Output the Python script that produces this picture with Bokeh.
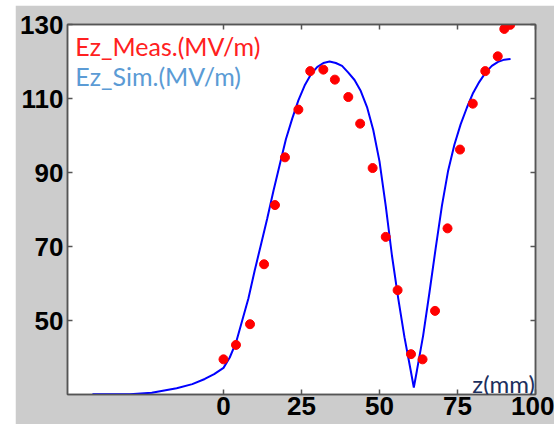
from bokeh.plotting import figure
from bokeh.models import Range1d, FixedTicker, LinearAxis, Label, GlobalInlineStyleSheet
from bokeh.embed import file_html
from bokeh.resources import INLINE

# Simulated field (line)
sim_z = [-42, -30, -23, -15, -10, -6, -3, 0, 2, 4, 6, 8, 10, 12, 14, 16, 18, 20, 22, 24,
         26, 28, 30, 32, 34, 36, 38, 40, 42, 44, 46, 48, 50, 52, 54, 56, 58, 60, 61, 62,
         64, 66, 68, 70, 72, 74, 76, 78, 80, 82, 84, 86, 88, 90, 92]
sim_ez = [30.05, 30.1, 30.5, 31.7, 32.8, 34.2, 35.5, 37.2, 40.0, 44.0, 50.0, 56.0, 63.5, 70.5, 77.5, 85.0, 92.0, 99.0, 104.5, 109.5,
          113.5, 116.5, 118.5, 119.6, 120.0, 119.6, 118.8, 117.0, 115.0, 112.0, 107.7, 101.5, 93.0, 81.0, 67.5, 56.0, 45.5, 36.5, 31.9, 36.5,
          46.0, 57.5, 69.5, 81.0, 90.5, 97.5, 103.0, 107.5, 111.5, 114.5, 117.0, 118.8, 119.9, 120.5, 120.7]

# Measured field (points)
meas_z = [0, 4, 8.5, 13, 16.5, 19.7, 24, 27.8, 32, 35.7, 40, 43.8, 47.8, 52, 55.8, 60.1,
          63.8, 67.8, 71.8, 75.8, 79.9, 83.9, 87.9, 90, 91.9]
meas_ez = [39.5, 43.4, 49.0, 65.2, 81.2, 94.1, 107.0, 117.4, 117.8, 115.1, 110.4, 103.2, 91.2, 72.6, 58.2, 40.9,
           39.5, 52.6, 74.9, 96.2, 108.6, 117.4, 121.4, 128.8, 129.9]

x_ticks = [0, 25, 50, 75, 100]
y_ticks = [50, 70, 90, 110, 130]

GRAY = "#cccccc"
FRAME = "#555555"

page_css = GlobalInlineStyleSheet(css="body { margin: 5px 0 0 15px; overflow: hidden; }")

p = figure(width=539, height=419, x_range=Range1d(-50, 100), y_range=Range1d(30, 130),
           output_backend="svg", toolbar_location=None,
           min_border_left=52, min_border_right=19, min_border_top=19, min_border_bottom=30,
           background_fill_color="white", border_fill_color=GRAY,
           outline_line_color=FRAME, outline_line_width=1.5,
           stylesheets=[page_css])
p.grid.visible = False

def style_axis(ax, ticks, labels=True):
    ax.ticker = FixedTicker(ticks=ticks)
    ax.major_tick_in = 5
    ax.major_tick_out = 0
    ax.minor_tick_line_color = None
    ax.axis_line_color = FRAME
    ax.axis_line_width = 1.5
    ax.major_tick_line_color = FRAME
    ax.major_tick_line_width = 1.5
    if labels:
        ax.major_label_text_font = "Liberation Sans"
        ax.major_label_text_font_style = "bold"
        ax.major_label_text_font_size = "26px"
        ax.major_label_text_color = "black"
    else:
        ax.major_label_text_font_size = "1px"
        ax.major_label_text_color = None
        ax.major_label_standoff = 0

style_axis(p.xaxis[0], x_ticks)
p.xaxis[0].major_label_standoff = 2
style_axis(p.yaxis[0], y_ticks)
p.yaxis[0].major_label_standoff = 4

top = LinearAxis()
style_axis(top, x_ticks, labels=False)
p.add_layout(top, "above")
right = LinearAxis()
style_axis(right, y_ticks, labels=False)
p.add_layout(right, "right")

p.line(sim_z, sim_ez, line_color="#0000ff", line_width=2)
p.scatter(meas_z, meas_ez, size=9, fill_color="#ff0000", line_color="#ff0000")

p.add_layout(Label(x=-47.5, y=124.3, text="Ez_Meas.(MV/m)", text_color="#ff2020",
                   text_font="Lato", text_font_size="25px", text_baseline="middle"))
p.add_layout(Label(x=-47.5, y=116.2, text="Ez_Sim.(MV/m)", text_color="#5b9bd5",
                   text_font="Lato", text_font_size="25px", text_baseline="middle"))
p.add_layout(Label(x=99.8, y=33.0, text="z(mm)", text_color="#1c2f5e",
                   text_font="Lato", text_font_size="24px", text_baseline="middle", text_align="right"))

open("out.html", "w").write(file_html(p, INLINE))
